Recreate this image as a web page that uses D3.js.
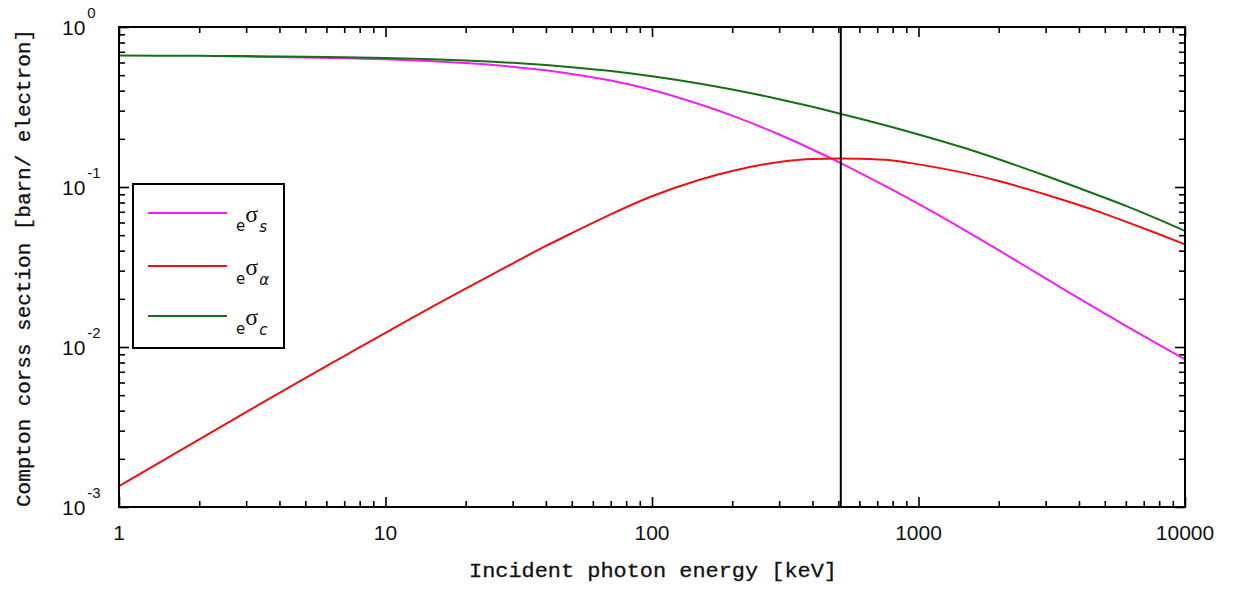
<!DOCTYPE html>
<html>
<head>
<meta charset="utf-8">
<script src="https://cdn.jsdelivr.net/npm/d3@7"></script>
<style>
  html, body { margin: 0; padding: 0; background: #fff; }
  svg { display: block; }
</style>
</head>
<body>
<svg id="chart" width="1235" height="595"></svg>
<script>
// ---- data ----
const energyC = [1, 2, 3, 5, 7, 10, 15, 20, 30, 40, 50, 70, 100, 150, 200, 300, 400, 500, 600, 800, 1000, 1500, 2000, 3000, 4000, 5000, 6000, 8000, 10000];
const sigmaC  = [0.663, 0.660, 0.658, 0.652, 0.647, 0.640, 0.629, 0.618, 0.597, 0.578, 0.561, 0.531, 0.493, 0.444, 0.407, 0.354, 0.317, 0.289, 0.268, 0.236, 0.213, 0.1745, 0.149, 0.1175, 0.0985, 0.0857, 0.0762, 0.0625, 0.0532];

const energyA = [1, 2, 3, 5, 7, 10, 15, 20, 30, 40, 50, 70, 100, 150, 200, 300, 400, 500, 600, 800, 1000, 1500, 2000, 3000, 4000, 5000, 6000, 8000, 10000];
const sigmaA  = [0.00135, 0.00265, 0.00392, 0.0064, 0.00878, 0.01227, 0.0179, 0.0232, 0.03325, 0.0428, 0.0515, 0.0675, 0.0875, 0.1107, 0.1259, 0.1433, 0.1497, 0.1505, 0.1500, 0.1465, 0.1385, 0.1221, 0.1091, 0.0898, 0.0771, 0.0679, 0.0608, 0.0507, 0.0438];

const energyS = [2.5, 3, 5, 7, 10, 15, 20, 30, 40, 50, 70, 100, 150, 200, 300, 400, 500, 600, 800, 1000, 1500, 2000, 3000, 4000, 5000, 6000, 8000, 10000];
const sigmaS  = [0.6557, 0.654, 0.6456, 0.638, 0.628, 0.611, 0.5948, 0.5638, 0.5368, 0.5087, 0.4630, 0.4043, 0.3301, 0.2793, 0.2129, 0.1716, 0.1435, 0.1231, 0.0959, 0.0784, 0.0534, 0.04026, 0.02684, 0.02013, 0.01618, 0.01355, 0.01031, 0.00838];

const markerEnergy = 511; // vertical line (keV)

const xMajorTicks = [1, 10, 100, 1000, 10000];
const xTickLabels = ["1", "10", "100", "1000", "10000"];
const yMajorTicks = [1, 0.1, 0.01, 0.001];
const yTickExponents = ["0", "-1", "-2", "-3"];

const legendItems = [
  { sub: "s", color: "#f020f0" },
  { sub: "\u03b1", color: "#ee1111" },
  { sub: "c", color: "#157015" }
];

const xTitle = "Incident photon energy [keV]";
const yTitle = "Compton corss section [barn/ electron]";

// ---- layout ----
const L = 119, R = 1185, T = 27, B = 507;
const svg = d3.select("#chart");

const x = d3.scaleLog().domain([1, 10000]).range([L, R]);
const y = d3.scaleLog().domain([0.001, 1]).range([B, T]);

// minor tick values
const xMinor = [];
for (let d = 1; d < 10000; d *= 10) for (let m = 2; m <= 9; m++) xMinor.push(d * m);
const yMinor = [];
for (let d = 0.001; d < 1; d *= 10) for (let m = 2; m <= 9; m++) yMinor.push(+(d * m).toPrecision(3));

const tickStyle = g => {
  g.select(".domain").remove();
  g.selectAll(".tick line").attr("stroke", "#000").attr("stroke-width", 1.6);
  g.selectAll(".tick text").remove();
};
const minorLen = 6, majorLen = 10;

svg.append("g").attr("transform", `translate(0,${B})`)
  .call(d3.axisBottom(x).tickValues(xMinor).tickSize(-minorLen)).call(tickStyle);
svg.append("g").attr("transform", `translate(0,${B})`)
  .call(d3.axisBottom(x).tickValues(xMajorTicks).tickSize(-majorLen)).call(tickStyle);
svg.append("g").attr("transform", `translate(0,${T})`)
  .call(d3.axisTop(x).tickValues(xMinor).tickSize(-minorLen)).call(tickStyle);
svg.append("g").attr("transform", `translate(0,${T})`)
  .call(d3.axisTop(x).tickValues(xMajorTicks).tickSize(-majorLen)).call(tickStyle);
svg.append("g").attr("transform", `translate(${L},0)`)
  .call(d3.axisLeft(y).tickValues(yMinor).tickSize(-minorLen)).call(tickStyle);
svg.append("g").attr("transform", `translate(${L},0)`)
  .call(d3.axisLeft(y).tickValues(yMajorTicks).tickSize(-majorLen)).call(tickStyle);
svg.append("g").attr("transform", `translate(${R},0)`)
  .call(d3.axisRight(y).tickValues(yMinor).tickSize(-minorLen)).call(tickStyle);
svg.append("g").attr("transform", `translate(${R},0)`)
  .call(d3.axisRight(y).tickValues(yMajorTicks).tickSize(-majorLen)).call(tickStyle);

// ---- curves ----
const line = d3.line().x(d => x(d[0])).y(d => y(d[1])).curve(d3.curveMonotoneX);
const series = [
  { e: energyS, s: sigmaS, color: legendItems[0].color },
  { e: energyA, s: sigmaA, color: legendItems[1].color },
  { e: energyC, s: sigmaC, color: legendItems[2].color }
];
series.forEach(sr => {
  svg.append("path")
    .datum(sr.e.map((e, i) => [e, sr.s[i]]))
    .attr("d", line)
    .attr("fill", "none")
    .attr("stroke", sr.color)
    .attr("stroke-width", 2);
});

// vertical marker line
svg.append("line")
  .attr("x1", x(markerEnergy)).attr("x2", x(markerEnergy))
  .attr("y1", T).attr("y2", B)
  .attr("stroke", "#000").attr("stroke-width", 2);

// frame
svg.append("rect")
  .attr("x", L).attr("y", T).attr("width", R - L).attr("height", B - T)
  .attr("fill", "none").attr("stroke", "#000").attr("stroke-width", 2);

// ---- tick labels ----
const tickFont = "'Liberation Sans', Arial, sans-serif";
svg.append("g").selectAll("text").data(xMajorTicks).join("text")
  .attr("x", d => x(d)).attr("y", 540)
  .attr("text-anchor", "middle")
  .attr("font-family", tickFont).attr("font-size", 21).attr("fill", "#111")
  .text((d, i) => xTickLabels[i]);

const yl = svg.append("g").selectAll("text").data(yMajorTicks).join("text")
  .attr("x", 62).attr("y", d => y(d) + 8)
  .attr("font-family", tickFont).attr("fill", "#111");
yl.append("tspan").attr("font-size", 21).text("10");
yl.append("tspan").attr("font-size", 15).attr("dy", -17).attr("dx", 2)
  .text((d, i) => yTickExponents[i]);

// ---- axis titles ----
const titleFont = "'Liberation Mono', 'Courier New', monospace";
svg.append("text")
  .attr("x", (L + R) / 2 + 1).attr("y", 577)
  .attr("text-anchor", "middle")
  .attr("font-family", titleFont).attr("font-size", 20).attr("fill", "#111")
  .attr("stroke", "#111").attr("stroke-width", 0.3)
  .attr("textLength", 368).attr("lengthAdjust", "spacingAndGlyphs")
  .text(xTitle);
svg.append("text")
  .attr("transform", `translate(30,${(T + B) / 2 + 1}) rotate(-90)`)
  .attr("text-anchor", "middle")
  .attr("font-family", titleFont).attr("font-size", 20).attr("fill", "#111")
  .attr("stroke", "#111").attr("stroke-width", 0.3)
  .attr("textLength", 478).attr("lengthAdjust", "spacingAndGlyphs")
  .text(yTitle);

// ---- legend ----
const lg = svg.append("g");
lg.append("rect")
  .attr("x", 133).attr("y", 184).attr("width", 151).attr("height", 164)
  .attr("fill", "#fff").attr("stroke", "#000").attr("stroke-width", 2);
const rowY = [213, 266, 316];
legendItems.forEach((it, i) => {
  const yy = rowY[i];
  lg.append("line").attr("x1", 148).attr("x2", 227).attr("y1", yy).attr("y2", yy)
    .attr("stroke", it.color).attr("stroke-width", 2);
  const t = lg.append("text").attr("x", 236).attr("y", yy + 18).attr("fill", "#111")
    .attr("font-family", "'DejaVu Sans', sans-serif");
  t.append("tspan").attr("font-size", 15).text("e");
  t.append("tspan").attr("font-size", 24).attr("dy", -9).attr("dx", 0)
    .attr("font-family", "'Liberation Serif', serif").text("\u03c3");
  t.append("tspan").attr("font-size", 15).attr("dy", 10).attr("dx", 1)
    .attr("font-style", "italic").text(it.sub);
});
</script>
</body>
</html>
